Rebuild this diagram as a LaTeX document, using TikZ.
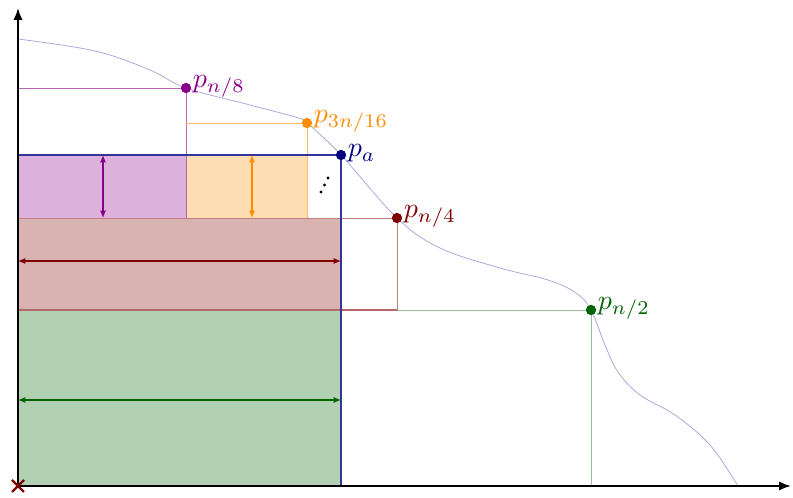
\documentclass[tikz,border=0pt]{standalone}
\usepackage{graphicx}
\usetikzlibrary{arrows.meta}
\definecolor{cpurple}{RGB}{139,0,139}
\definecolor{corange}{RGB}{255,140,0}
\definecolor{cred}{RGB}{128,0,0}
\definecolor{cgreen}{RGB}{0,100,0}
\definecolor{cblue}{RGB}{0,0,128}
\definecolor{ccurve}{RGB}{170,170,220}
\newcommand{\biglbl}[1]{\scalebox{2.1}{$#1$}}
\begin{document}
\begin{tikzpicture}[x=0.75pt,y=-0.75pt,
  dot/.style={circle,fill,inner sep=0pt,minimum size=7.5pt},
  lbl/.style={anchor=west,inner sep=1pt},
  thin line/.style={line width=0.6pt},
  dbl/.style={{Latex[length=5.5pt,width=4.5pt]}-{Latex[length=5.5pt,width=4.5pt]},line width=0.8pt},
  axis/.style={line width=1.5pt,-{Latex[length=9pt,width=7pt]}}]
\useasboundingbox (0,0) rectangle (793,498);
% fills
\fill[cpurple!30] (18,155) rectangle (186,218);
\fill[corange!30] (186,155) rectangle (307,218);
\fill[cred!30] (18,218) rectangle (341,310);
\fill[cgreen!30] (18,310) rectangle (341,486);
% coordinates
\coordinate (O) at (18,486);
\coordinate (ytop) at (18,8);
\coordinate (xend) at (791,486);
% curve
\draw[ccurve,line width=0.6pt] plot[smooth,tension=0.6] coordinates{
 (18,39) (95,51) (150,70) (186,88) (250,105) (295,117) (307,123)
 (341,155) (397,218) (440,248) (500,268) (548,280) (576,293) (591,310)
 (605,345) (618,372) (640,395) (675,415) (710,445) (738,486)};
% points
\node[dot,cpurple] (p8) at (186,88) {};
\node[dot,corange] (p316) at (307,123) {};
\node[dot,cblue] (pa) at (341,155) {};
\node[dot,cred] (p4) at (397,218) {};
\node[dot,cgreen] (p2) at (591,310) {};
\coordinate (a8) at (18,88);
\coordinate (b8) at (186,218);
\coordinate (a316) at (186,123);
\coordinate (b316) at (307,218);
\coordinate (aa) at (18,155);
\coordinate (ba) at (341,486);
\coordinate (a4) at (18,218);
\coordinate (b4) at (397,310);
\coordinate (a2) at (18,310);
\coordinate (b2) at (591,486);
% guide lines
\draw[thin line,cpurple!60] (a8) -- (p8.center) -- (b8);
\draw[thin line,corange!60] (a316) -- (p316.center) -- (b316);
\draw[thin line,cred!50] (a4) -- (p4.center) -- (b4);
\draw[thin line,cgreen!40] (a2) -- (p2.center) -- (b2);
\draw[line width=0.8pt,cred!60] (a2) -- (b4);
\draw[line width=0.9pt,cblue!80] (aa) -- (pa.center) -- (ba);
% re-draw points over lines
\node[dot,cpurple] at (p8) {};
\node[dot,corange] at (p316) {};
\node[dot,cblue] at (pa) {};
\node[dot,cred] at (p4) {};
\node[dot,cgreen] at (p2) {};
% labels
\node[lbl,cpurple] (l8) at ([yshift=1pt]p8.east) {\biglbl{p_{n/8}}};
\node[lbl,corange] (l316) at ([yshift=1pt]p316.east) {\biglbl{p_{3n/16}}};
\node[lbl,cblue] (la) at ([yshift=1pt]pa.east) {\biglbl{p_a}};
\node[lbl,cred] (l4) at ([yshift=1pt]p4.east) {\biglbl{p_{n/4}}};
\node[lbl,cgreen] (l2) at ([yshift=1pt]p2.east) {\biglbl{p_{n/2}}};
% double arrows
\coordinate (v1t) at (103,155); \coordinate (v1b) at (103,218);
\coordinate (v2t) at (252,155); \coordinate (v2b) at (252,218);
\coordinate (h1l) at (18,261); \coordinate (h1r) at (341,261);
\coordinate (h2l) at (18,400); \coordinate (h2r) at (341,400);
\draw[dbl,cpurple] (v1t) -- (v1b);
\draw[dbl,corange] (v2t) -- (v2b);
\draw[dbl,cred] (h1l) -- (h1r);
\draw[dbl,cgreen] (h2l) -- (h2r);
% dots
\fill (321,192) circle (1.6);
\fill (324.5,185) circle (1.6);
\fill (328,178) circle (1.6);
% axes
\draw[axis] (O) -- (ytop);
\draw[axis] (O) -- (xend);
% red cross
\draw[cred,line width=1.8pt] (12,480) -- (24,492) (12,492) -- (24,480);
\end{tikzpicture}
\end{document}
